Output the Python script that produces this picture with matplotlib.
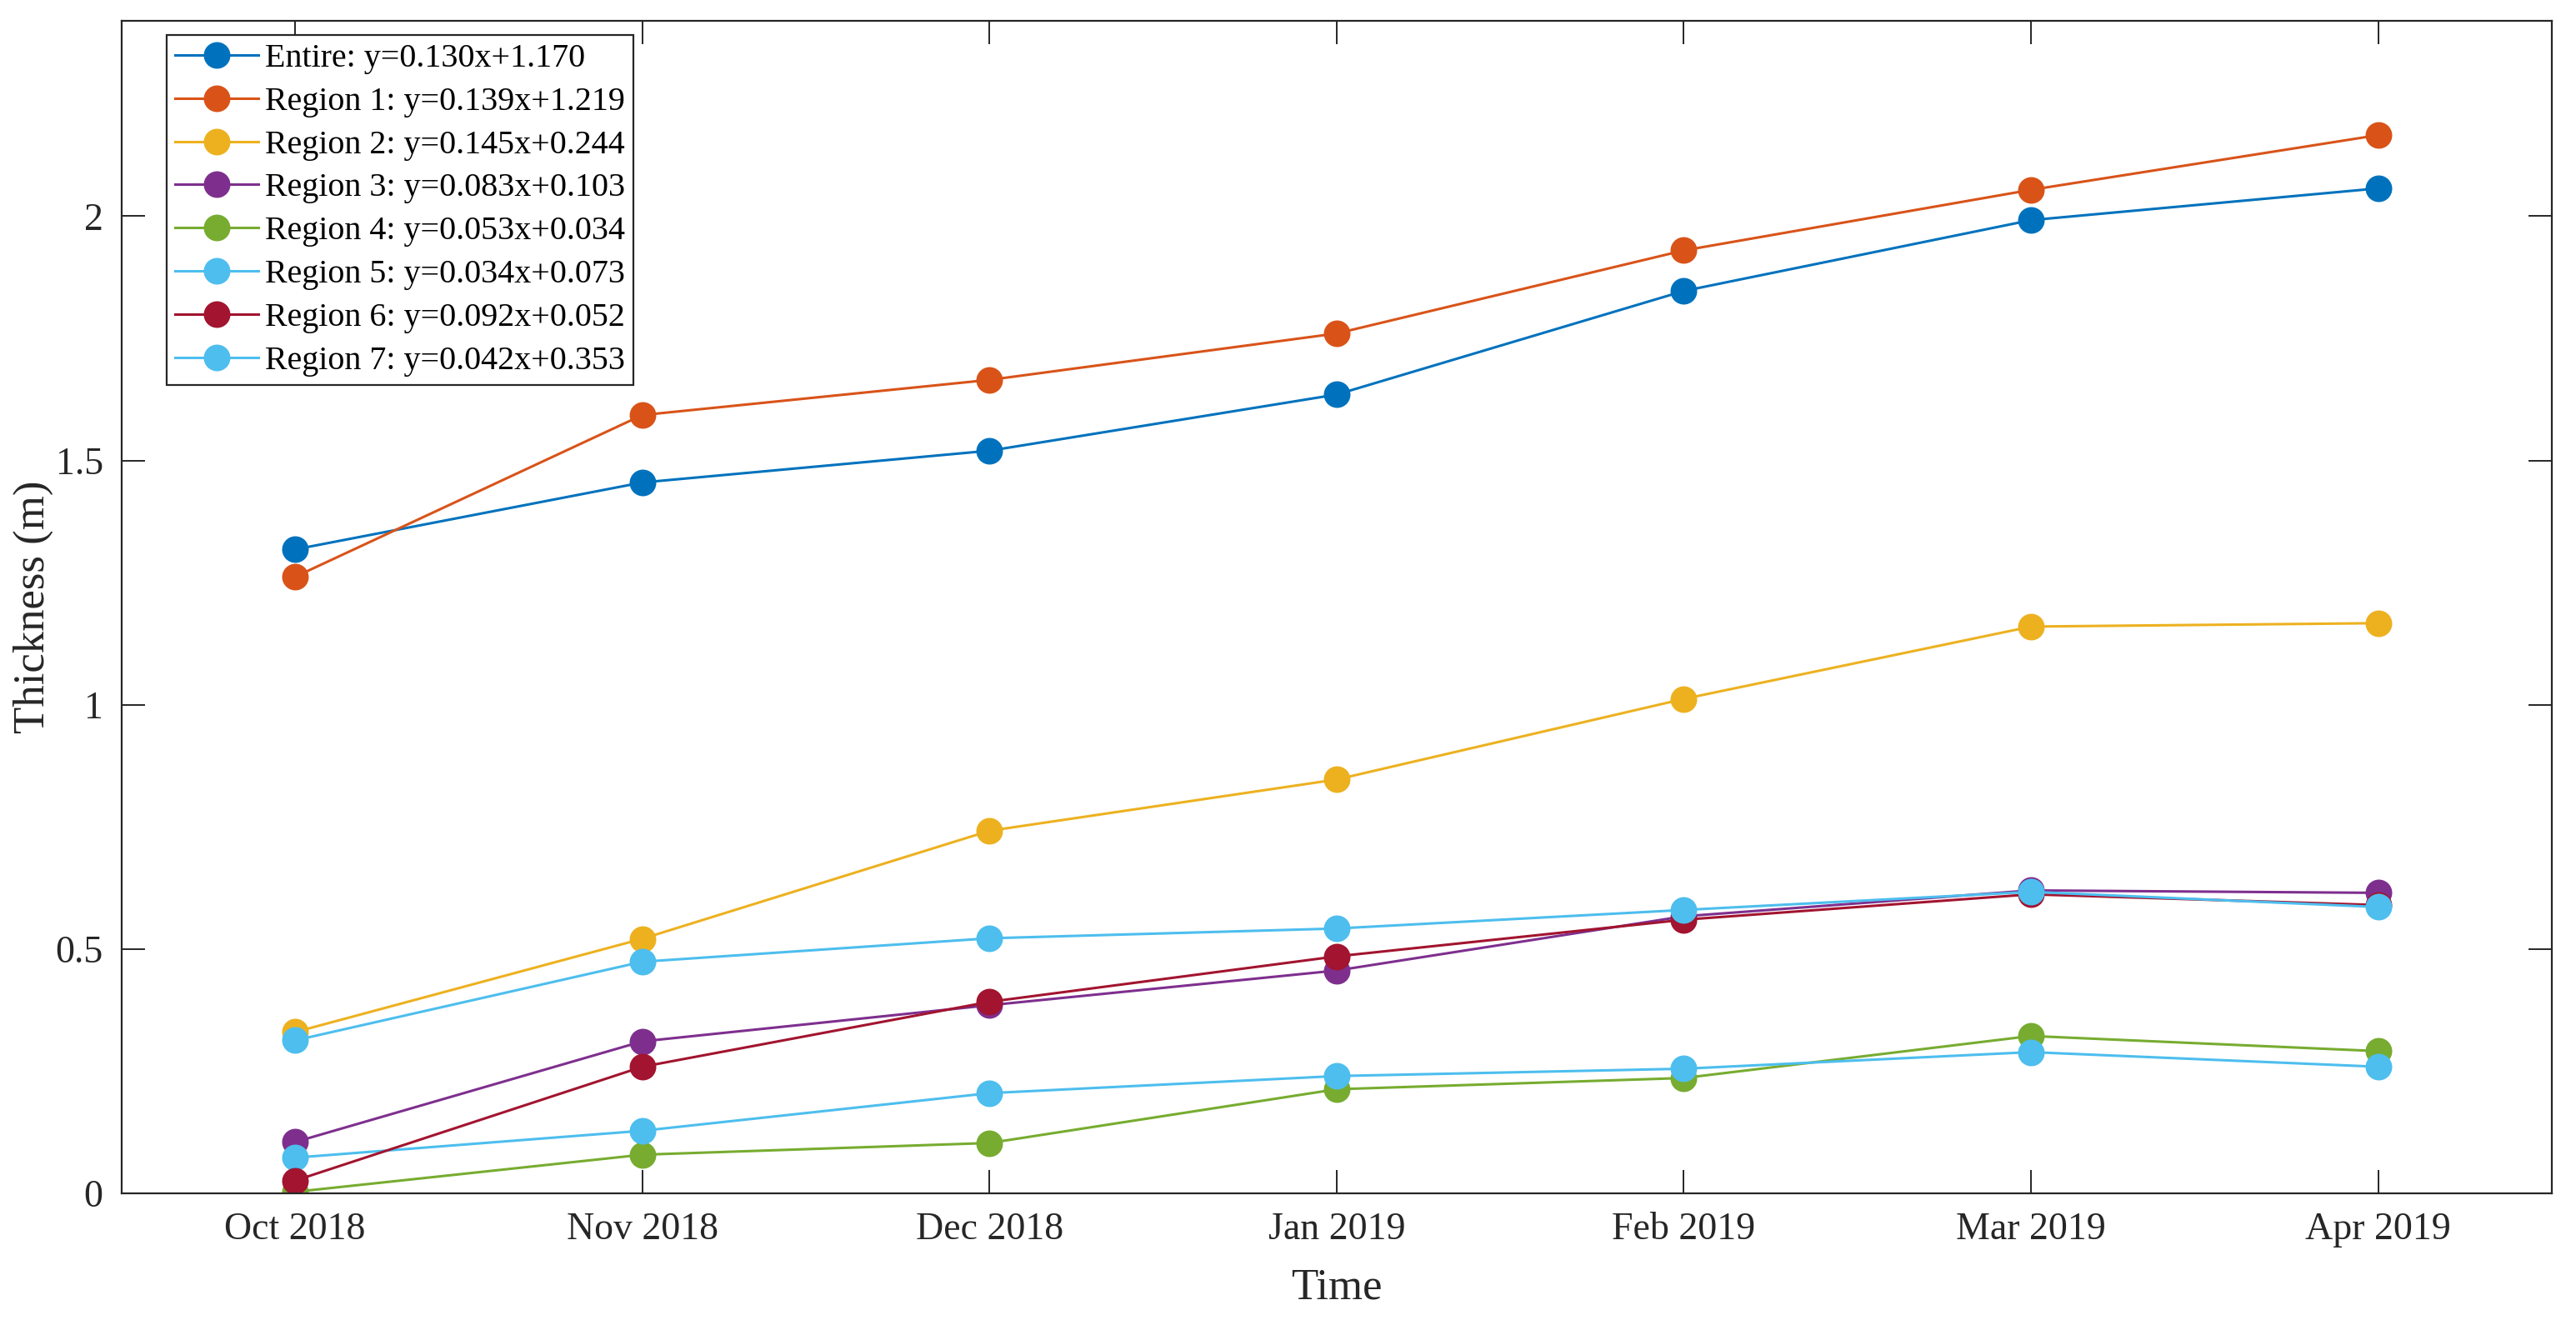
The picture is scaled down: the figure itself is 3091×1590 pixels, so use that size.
import matplotlib
matplotlib.use("Agg")
import matplotlib.pyplot as plt

plt.rcParams['font.family'] = ['Liberation Serif', 'DejaVu Serif']

months = ['Oct 2018', 'Nov 2018', 'Dec 2018', 'Jan 2019', 'Feb 2019', 'Mar 2019', 'Apr 2019']

entire = [1.318, 1.455, 1.520, 1.635, 1.847, 1.992, 2.057]
region1 = [1.262, 1.593, 1.665, 1.760, 1.930, 2.054, 2.166]
region2 = [0.330, 0.521, 0.742, 0.847, 1.012, 1.160, 1.167]
region3 = [0.105, 0.311, 0.385, 0.456, 0.567, 0.620, 0.615]
region4 = [0.003, 0.079, 0.103, 0.213, 0.236, 0.322, 0.291]
region5 = [0.073, 0.128, 0.205, 0.240, 0.255, 0.289, 0.259]
region6 = [0.026, 0.259, 0.392, 0.485, 0.560, 0.612, 0.590]
region7 = [0.313, 0.474, 0.522, 0.542, 0.580, 0.617, 0.586]

labels = ['Entire: y=0.130x+1.170', 'Region 1: y=0.139x+1.219', 'Region 2: y=0.145x+0.244',
          'Region 3: y=0.083x+0.103', 'Region 4: y=0.053x+0.034', 'Region 5: y=0.034x+0.073',
          'Region 6: y=0.092x+0.052', 'Region 7: y=0.042x+0.353']
colors = ['#0072BD', '#D95319', '#EDB120', '#7E2F8E', '#77AC30', '#4DBEEE', '#A2142F', '#4DBEEE']
series = [entire, region1, region2, region3, region4, region5, region6, region7]

fig = plt.figure(figsize=(15.455, 7.95), dpi=200)
ax = fig.add_axes([0.0472, 0.0994, 0.9434, 0.8849])

x = range(len(months))
for y, lab, c in zip(series, labels, colors):
    ax.plot(x, y, '-o', color=c, label=lab, linewidth=1.1, markersize=10.5)

ax.set_xlim(-0.5, 6.5)
ax.set_ylim(0, 2.4)
ax.set_xticks(list(x))
ax.set_xticklabels(months)
ax.set_yticks([0, 0.5, 1, 1.5, 2])
ax.set_yticklabels(['0', '0.5', '1', '1.5', '2'])
ax.tick_params(direction='in', length=10, width=0.7, colors='#262626', labelsize=16.5,
               top=True, right=True, pad=8)
for s in ax.spines.values():
    s.set_color('#262626')
    s.set_linewidth(0.8)

ax.set_xlabel('Time', fontsize=19, color='#262626', labelpad=9)
ax.set_ylabel('Thickness (m)', fontsize=19, color='#262626', labelpad=1)

leg = ax.legend(loc='upper left', bbox_to_anchor=(0.0185, 0.9879), fontsize=14.4, handlelength=2.5,
                fancybox=False, framealpha=1, edgecolor='#262626', borderpad=0.25,
                labelspacing=0.37, handletextpad=0.2, borderaxespad=0)
leg.get_frame().set_linewidth(0.8)

plt.savefig('out.png', dpi=200)
